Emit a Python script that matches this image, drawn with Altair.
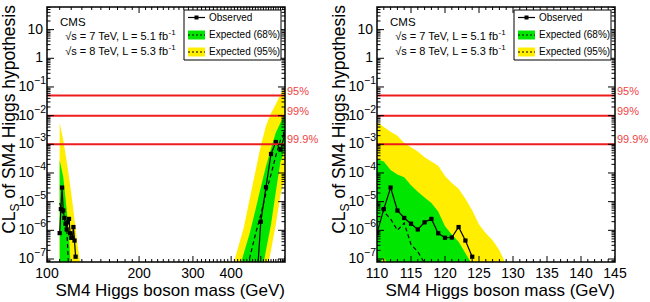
import altair as alt
import pandas as pd

FONT = "Liberation Sans"
GREEN = "#00e600"
YELLOW = "#ffee00"
RED = "#ee1c1c"
RED_TEXT = "#f04444"

W, H = 238, 255          # plot area of each panel (px)
CLS_MIN, CLS_MAX = 7.85e-8, 61.5
OFF = 1e-9               # band edge lying below the displayed range

# ---------------- observed CLs ----------------
obs_mass_low = [110, 111, 112, 113, 114, 115, 116, 117, 118, 119, 120, 121, 122, 123, 124]
obs_cls_low = [8.0e-7, 5.5e-6, 3.1e-5, 4.9e-6, 2.7e-6, 1.7e-6, 1.07e-6, 1.9e-6,
               2.5e-6, 7.9e-7, 5.5e-7, 5.6e-7, 1.3e-6, 4.4e-7, 1.2e-7]
obs_mass_high = [480, 500, 520, 540, 560, 580, 600]
obs_cls_high = [2.5e-9, 2.0e-6, 3.2e-5, 4.6e-4, 1.2e-3, 6.5e-4, 2.3e-3]

# ---------------- expected, full range (100-600 GeV) ----------------
full_low_mass = [110, 113, 116, 118, 120, 122, 126, 129]
full_low_95_hi = [5.6e-3, 1.4e-3, 2.5e-4, 7.4e-5, 2.0e-5, 5.0e-6, 2.8e-7, 5.0e-8]
full_low_95_lo = [OFF, OFF, OFF, OFF, OFF, OFF, OFF, OFF]
full_low_68_hi = [2.8e-4, 7.4e-5, 5.0e-6, 6.3e-7, 2.5e-8, OFF, OFF, OFF]
full_low_68_lo = [OFF, OFF, OFF, OFF, OFF, OFF, OFF, OFF]
full_low_med_mass = [110, 113, 116, 118]
full_low_med = [8.9e-6, 3.5e-6, 1.26e-6, 2.5e-8]

full_high_mass = [400, 420, 440, 460, 480, 500, 520, 540, 560, 580, 600]
full_high_95_hi = [3.5e-8, 2.2e-7, 1.26e-6, 1.26e-5, 1.1e-4, 8.9e-4, 4.4e-3, 1.2e-2, 2.5e-2, 5.6e-2, 0.1]
full_high_95_lo = [OFF, OFF, OFF, OFF, OFF, OFF, 2.5e-8, 2.0e-7, 1.6e-6, 1.8e-5, 6.3e-5]
full_high_68_hi = [3.2e-9, 2.8e-8, 1.6e-7, 7.9e-7, 5.0e-6, 3.2e-5, 1.7e-4, 7.1e-4, 2.6e-3, 5.6e-3, 1.07e-2]
full_high_68_lo = [OFF, OFF, OFF, OFF, OFF, 2.0e-8, 2.0e-7, 1.6e-6, 2.2e-5, 2.5e-4, 6.3e-4]
full_high_med_mass = [440, 460, 480, 500, 520, 540, 560, 580, 600]
full_high_med = [2.0e-8, 1.1e-7, 7.1e-7, 3.5e-6, 2.0e-5, 8.9e-5, 4.0e-4, 1.4e-3, 2.5e-3]

# ---------------- expected, low-mass scan (1 GeV steps) ----------------
fine_95_mass = [110, 111, 112, 113, 114, 115, 116, 117, 118, 119,
                120, 121, 122, 123, 124, 125, 126, 127, 128, 129]
fine_95_hi = [6.0e-3, 4.0e-3, 2.75e-3, 2.0e-3, 1.12e-3, 7.9e-4, 5.6e-4, 3.5e-4, 2.5e-4, 1.8e-4,
              7.9e-5, 4.5e-5, 2.8e-5, 1.26e-5, 5.0e-6, 1.6e-6, 7.9e-7, 4.5e-7, 2.0e-7, 6.3e-8]
fine_95_lo = [OFF] * len(fine_95_mass)
fine_68_mass = [110, 111, 112, 113, 114, 115, 116, 117, 118, 119, 120, 121, 122, 123, 124]
fine_68_hi = [3.0e-4, 2.5e-4, 1.26e-4, 8.9e-5, 7.1e-5, 3.7e-5, 2.2e-5, 1.4e-5,
              8.9e-6, 4.5e-6, 1.4e-6, 7.1e-7, 4.0e-7, 1.6e-7, 6.3e-8]
fine_68_lo = [5.0e-8, 1.1e-7, 5.0e-8, OFF, OFF, OFF, OFF, OFF, OFF, OFF, OFF, OFF, OFF, OFF, OFF]
fine_med_mass = [110, 111, 112, 113, 114, 115, 116, 117]
fine_med = [8.9e-6, 4.5e-6, 2.5e-6, 1.0e-6, 1.8e-6, 3.2e-7, 1.8e-7, 7.1e-8]

# ---------------- exclusion levels ----------------
cl_levels = [0.05, 0.01, 0.001]
cl_labels = ["95%", "99%", "99.9%"]

# ---------------- axis labels ----------------
y_exp_vals = [1e-7, 1e-6, 1e-5, 1e-4, 1e-3, 1e-2, 1e-1]
y_exp_text = ["\u22127", "\u22126", "\u22125", "\u22124", "\u22123", "\u22122", "\u22121"]
y_plain_vals = [1, 10]
y_plain_text = ["1", "10"]
y_major = y_exp_vals + y_plain_vals
y_minor = [m * 10.0 ** k for k in range(-8, 2) for m in range(2, 10)
           if CLS_MIN <= m * 10.0 ** k <= CLS_MAX]

left_xlab_vals = [100, 200, 300, 400]
left_xlab_text = ["100", "200", "300", "400"]
left_x_major = [100, 200, 300, 400, 500, 600]
left_x_minor = [v for v in range(110, 600, 10) if v % 100]

right_xlab_vals = [110, 115, 120, 125, 130, 135, 140, 145]
right_xlab_text = [str(v) for v in right_xlab_vals]
right_x_major = right_xlab_vals
right_x_minor = [v for v in range(111, 145) if v % 5]

X_TITLE = "SM4 Higgs boson mass (GeV)"
Y_TITLE_MAIN = "of SM4 Higgs hypothesis"
TEXT_LINES = ["CMS", "\u221as = 7 TeV, L = 5.1 fb", "\u221as = 8 TeV, L = 5.3 fb"]
LEGEND_TEXT = ["Observed", "Expected (68%)", "Expected (95%)"]

yscale = alt.Scale(type="log", domain=[CLS_MIN, CLS_MAX], nice=False)


def band_frame(segments):
    rows = []
    for seg, (ms, hi, lo) in enumerate(segments):
        for m, h, l in zip(ms, hi, lo):
            rows.append({"mass": m, "hi": h, "lo": l, "seg": seg})
    return pd.DataFrame(rows)


def curve_frame(segments):
    rows = []
    for seg, (ms, vs) in enumerate(segments):
        for m, v in zip(ms, vs):
            rows.append({"mass": m, "cls": v, "seg": seg})
    return pd.DataFrame(rows)


def text_at(txt, x, y, size=11, align="left", baseline="middle", color="black", **kw):
    return alt.Chart(pd.DataFrame({"t": [txt]})).mark_text(
        align=align, baseline=baseline, fontSize=size, font=FONT, color=color, **kw
    ).encode(x=alt.value(x), y=alt.value(y), text="t:N")


ONE = pd.DataFrame({"a": [0]})


def panel(xscale, bands95, bands68, med, obs, x_major, x_minor, xlab_vals, xlab_text, anchor=False):
    def X(f):
        return alt.X(f"{f}:Q", scale=xscale, axis=None)

    def Y(f):
        return alt.Y(f"{f}:Q", scale=yscale, axis=None)

    layers = [
        alt.Chart(bands95).mark_area(color=YELLOW, clip=True).encode(
            x=X("mass"), y=Y("hi"), y2=alt.Y2("lo:Q"), detail="seg:N"),
        alt.Chart(bands68).mark_area(color=GREEN, clip=True).encode(
            x=X("mass"), y=Y("hi"), y2=alt.Y2("lo:Q"), detail="seg:N"),
        alt.Chart(med).mark_line(color="black", strokeWidth=1.2, strokeDash=[4, 3], clip=True).encode(
            x=X("mass"), y=Y("cls"), detail="seg:N"),
        alt.Chart(obs).mark_line(color="black", strokeWidth=1.2, clip=True).encode(
            x=X("mass"), y=Y("cls"), detail="seg:N"),
        alt.Chart(obs).mark_square(color="black", size=18, opacity=1, clip=True).encode(
            x=X("mass"), y=Y("cls")),
    ]

    lv = pd.DataFrame({"cl": cl_levels, "lab": cl_labels})
    layers.append(alt.Chart(lv).mark_rule(color=RED, strokeWidth=2).encode(y=Y("cl")))
    layers.append(alt.Chart(lv).mark_text(align="left", baseline="alphabetic", dy=-1, fontSize=11,
                                          font=FONT, color=RED_TEXT).encode(
        y=Y("cl"), x=alt.value(W + 2), text="lab:N"))

    # inward ticks on all four sides
    ymaj = pd.DataFrame({"v": y_major})
    ymin = pd.DataFrame({"v": y_minor})
    xmaj = pd.DataFrame({"v": x_major})
    xmin = pd.DataFrame({"v": x_minor})
    for df, ln in ((ymaj, 7), (ymin, 3.5)):
        layers.append(alt.Chart(df).mark_rule(color="black", strokeWidth=1, clip=True).encode(
            y=Y("v"), x=alt.value(0), x2=alt.value(ln)))
        layers.append(alt.Chart(df).mark_rule(color="black", strokeWidth=1, clip=True).encode(
            y=Y("v"), x=alt.value(W - ln), x2=alt.value(W)))
    for df, ln in ((xmaj, 6), (xmin, 3)):
        layers.append(alt.Chart(df).mark_rule(color="black", strokeWidth=1, clip=True).encode(
            x=X("v"), y=alt.value(H), y2=alt.value(H - ln)))
        layers.append(alt.Chart(df).mark_rule(color="black", strokeWidth=1, clip=True).encode(
            x=X("v"), y=alt.value(0), y2=alt.value(ln)))

    # tick labels
    ye = pd.DataFrame({"v": y_exp_vals, "sup": y_exp_text})
    layers.append(alt.Chart(ye).mark_text(align="right", baseline="middle", fontSize=14, font=FONT).encode(
        y=Y("v"), x=alt.value(-13), text=alt.value("10")))
    layers.append(alt.Chart(ye).mark_text(align="left", baseline="middle", fontSize=10.5, font=FONT, dy=-6).encode(
        y=Y("v"), x=alt.value(-13), text="sup:N"))
    yp = pd.DataFrame({"v": y_plain_vals, "lab": y_plain_text})
    layers.append(alt.Chart(yp).mark_text(align="right", baseline="middle", fontSize=14, font=FONT).encode(
        y=Y("v"), x=alt.value(-4), text="lab:N"))
    xl = pd.DataFrame({"v": xlab_vals, "lab": xlab_text})
    layers.append(alt.Chart(xl).mark_text(align="center", baseline="middle", fontSize=14, font=FONT).encode(
        x=X("v"), y=alt.value(H + 11.5), text="lab:N"))

    # axis titles
    layers.append(text_at(X_TITLE, W, H + 28.5, size=17, align="right"))
    layers.append(text_at(Y_TITLE_MAIN, -32, -2, size=17.5, align="right", baseline="alphabetic", angle=270))
    layers.append(text_at("S", -28, 196.4, size=12, align="right", baseline="alphabetic", angle=270))
    layers.append(text_at("CL", -32, 204.4, size=17.5, align="right", baseline="alphabetic", angle=270))

    # experiment label
    layers.append(text_at(TEXT_LINES[0], 13, 15.7, size=11.5))
    layers.append(text_at(TEXT_LINES[1], 121, 29.7, size=11, align="right"))
    layers.append(text_at("-1", 121.5, 25.7, size=8))
    layers.append(text_at(TEXT_LINES[2], 121, 44.7, size=11, align="right"))
    layers.append(text_at("-1", 121.5, 40.7, size=8))

    # legend
    layers.append(alt.Chart(ONE).mark_rect(fill="white", stroke="black", strokeWidth=1).encode(
        x=alt.value(137), x2=alt.value(234), y=alt.value(3), y2=alt.value(53)))
    layers.append(alt.Chart(ONE).mark_rule(color="black", strokeWidth=1.2).encode(
        x=alt.value(141), x2=alt.value(158), y=alt.value(10.5)))
    layers.append(alt.Chart(ONE).mark_square(color="black", size=16, opacity=1).encode(
        x=alt.value(149.5), y=alt.value(10.5)))
    for yc, col in ((28, GREEN), (45, YELLOW)):
        layers.append(alt.Chart(ONE).mark_rect(color=col).encode(
            x=alt.value(141), x2=alt.value(158), y=alt.value(yc - 4.5), y2=alt.value(yc + 4.5)))
        layers.append(alt.Chart(ONE).mark_rule(color="black", strokeWidth=1, strokeDash=[2, 2]).encode(
            x=alt.value(141), x2=alt.value(158), y=alt.value(yc)))
    for txt, yc in zip(LEGEND_TEXT, (10.5, 28, 45)):
        layers.append(text_at(txt, 162, yc, size=10))

    # plot frame
    layers.append(alt.Chart(ONE).mark_rect(fillOpacity=0, stroke="black", strokeWidth=1.5).encode(
        x=alt.value(0), x2=alt.value(W), y=alt.value(0), y2=alt.value(H)))

    if anchor:
        # fixes the page offset of the plot area
        layers.append(alt.Chart(ONE).mark_rule(color="white", strokeWidth=1).encode(
            x=alt.value(-46.5), x2=alt.value(-45.5), y=alt.value(-6.5)))

    return alt.layer(*layers).properties(width=W, height=H)


left = panel(
    alt.Scale(type="log", domain=[100, 600], nice=False),
    band_frame([(full_low_mass, full_low_95_hi, full_low_95_lo),
                (full_high_mass, full_high_95_hi, full_high_95_lo)]),
    band_frame([(full_low_mass, full_low_68_hi, full_low_68_lo),
                (full_high_mass, full_high_68_hi, full_high_68_lo)]),
    curve_frame([(full_low_med_mass, full_low_med), (full_high_med_mass, full_high_med)]),
    curve_frame([(obs_mass_low, obs_cls_low), (obs_mass_high, obs_cls_high)]),
    left_x_major, left_x_minor, left_xlab_vals, left_xlab_text, anchor=True,
)

right = panel(
    alt.Scale(domain=[110, 145], nice=False, zero=False),
    band_frame([(fine_95_mass, fine_95_hi, fine_95_lo)]),
    band_frame([(fine_68_mass, fine_68_hi, fine_68_lo)]),
    curve_frame([(fine_med_mass, fine_med)]),
    curve_frame([(obs_mass_low, obs_cls_low)]),
    right_x_major, right_x_minor, right_xlab_vals, right_xlab_text,
)

chart = alt.hconcat(left, right, spacing=92, bounds="flush", padding=0).configure_view(stroke=None)

chart.save("out.html", embed_options={"renderer": "svg", "actions": False})
